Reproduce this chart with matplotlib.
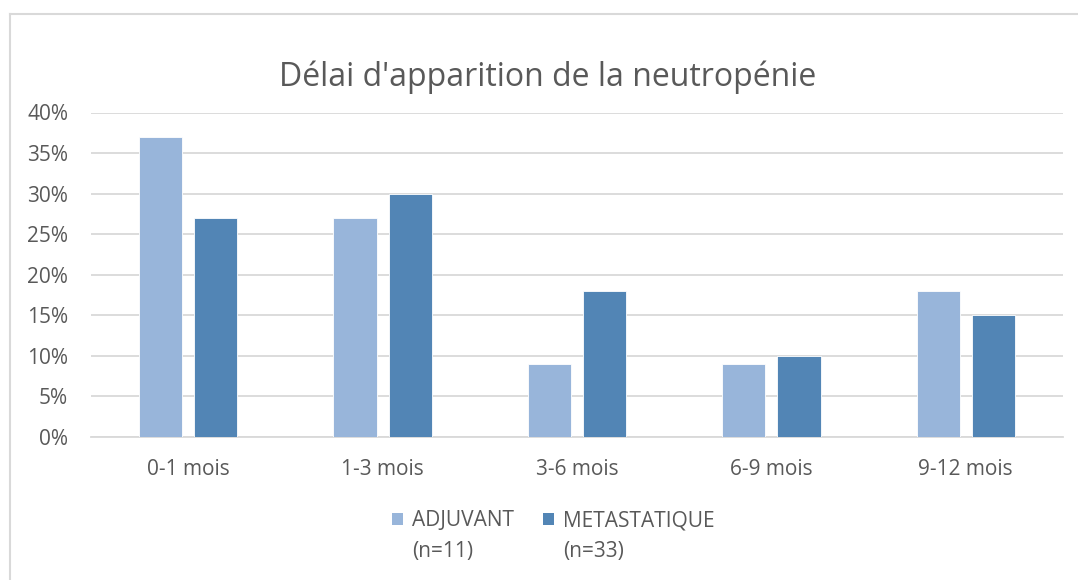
import matplotlib
matplotlib.use("Agg")
import matplotlib.pyplot as plt
import numpy as np
from matplotlib.lines import Line2D
from matplotlib.patches import Patch

categories = ["0-1 mois", "1-3 mois", "3-6 mois", "6-9 mois", "9-12 mois"]
adjuvant = [37, 27, 9, 9, 18]
metastatique = [27, 30, 18, 10, 15]
series_names = ["ADJUVANT", "METASTATIQUE"]
series_counts = ["(n=11)", "(n=33)"]
title = "Délai d'apparition de la neutropénie"
yticks = [0, 5, 10, 15, 20, 25, 30, 35, 40]

c_light = "#98B5DA"
c_dark = "#5285B5"
grey_text = "#595959"
grid_c = "#D9D9D9"

plt.rcParams['font.family'] = ['Open Sans', 'DejaVu Sans']

W, H = 1078, 580
fig = plt.figure(figsize=(W / 100, H / 100), dpi=100)
ax = fig.add_axes([91 / W, 1 - 437 / H, (1063 - 91) / W, (437 - 112.5) / H])

x = np.arange(len(categories))
bw = 0.222
off = 0.142
ax.bar(x - off, adjuvant, bw, color=c_light, edgecolor="white", linewidth=0.6, zorder=3)
ax.bar(x + off, metastatique, bw, color=c_dark, edgecolor="white", linewidth=0.6, zorder=3)

ax.set_xlim(-0.5, len(categories) - 0.5)
ax.set_ylim(0, 40)
ax.set_yticks(yticks)
ax.set_yticklabels([f"{v}%" for v in yticks])
ax.set_xticks(x)
ax.set_xticklabels(categories)
ax.yaxis.grid(True, color=grid_c, linewidth=1.3, zorder=0)
ax.set_axisbelow(True)
for s in ["top", "right", "left"]:
    ax.spines[s].set_visible(False)
ax.spines["bottom"].set_color(grid_c)
ax.spines["bottom"].set_linewidth(1.3)
ax.tick_params(axis="both", length=0, colors=grey_text, labelsize=15)
ax.tick_params(axis="y", pad=16.5)
ax.tick_params(axis="x", pad=15.5)

fig.text(548 / W, 1 - 86 / H, title, ha="center", va="baseline", fontsize=23, color=grey_text)

handles = [Patch(facecolor=c_light, edgecolor="none"), Patch(facecolor=c_dark, edgecolor="none")]
leg = fig.legend(handles, series_names, loc="center left", bbox_to_anchor=(392 / W, 1 - 521 / H),
                 ncol=2, frameon=False, fontsize=15, handlelength=0.55, handleheight=0.55,
                 handletextpad=0.4, columnspacing=1.4, labelcolor=grey_text,
                 borderpad=0, borderaxespad=0)

fig.canvas.draw()
inv = fig.transFigure.inverted()
for t, cnt in zip(leg.get_texts(), series_counts):
    bb = t.get_window_extent()
    x0, y0 = inv.transform((bb.x0, bb.y0))
    fig.text(x0, y0 - 30 / H, cnt, ha="left", va="bottom", fontsize=15, color=grey_text)

# chart border lines
fig.add_artist(Line2D([9.5 / W, 1.0], [1 - 13.5 / H, 1 - 13.5 / H], color=grid_c, linewidth=1.5))
fig.add_artist(Line2D([9.5 / W, 9.5 / W], [0, 1 - 13.5 / H], color=grid_c, linewidth=1.5))

fig.savefig("out.png", dpi=100, facecolor="white")
